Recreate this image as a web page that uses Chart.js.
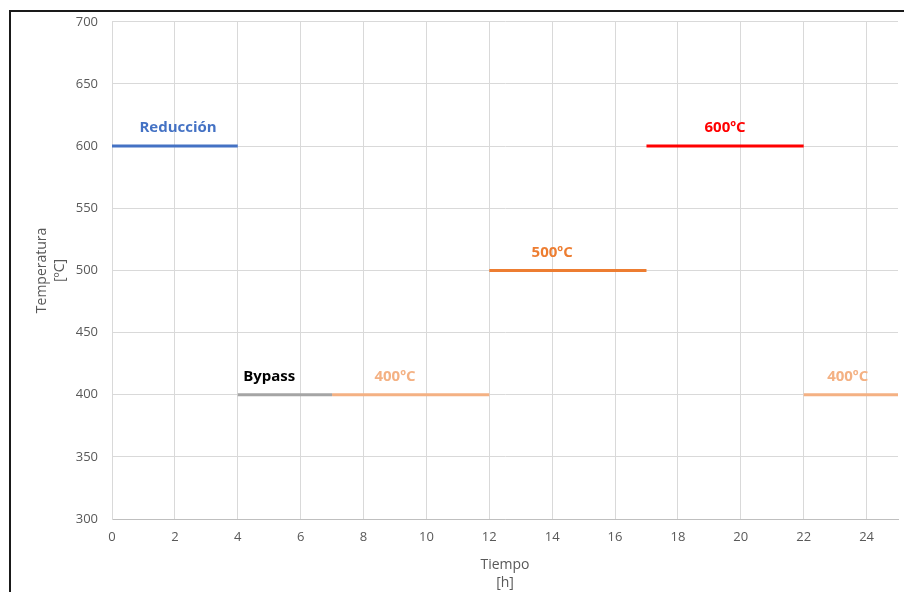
<!DOCTYPE html>
<html>
<head>
<meta charset="utf-8">
<script src="https://cdn.jsdelivr.net/npm/chart.js@4/dist/chart.umd.min.js"></script>
<style>
  html, body { margin: 0; padding: 0; background: #fff; overflow: hidden; }
  #wrap { position: relative; width: 904px; height: 592px; }
  #frame { position: absolute; left: 9px; top: 10px; width: 1000px; height: 1000px;
           border: 2px solid #1a1a1a; pointer-events: none; }
</style>
</head>
<body>
<div id="wrap">
  <canvas id="chart" width="904" height="592"></canvas>
  <div id="frame"></div>
</div>
<script>
'use strict';

/* ── Data ── */
const segNames  = ['Reducción', 'Bypass', '400ºC', '500ºC', '600ºC', '400ºC'];
const segStart  = [0, 4, 7, 12, 17, 22];
const segEnd    = [4, 7, 12, 17, 22, 25];
const segTemp   = [600, 400, 400, 500, 600, 400];
const labelAtX  = [2.1, 5, 9, 14, 19.5, 23.4];
const segColors = ['#4472C4', '#A5A5A5', '#F4B183', '#ED7D31', '#FF0000', '#F4B183'];
const labelColors = ['#4472C4', '#000000', '#F4B183', '#ED7D31', '#FF0000', '#F4B183'];
const xTicks = [0, 2, 4, 6, 8, 10, 12, 14, 16, 18, 20, 22, 24];

const FONT = "'Open Sans', 'Liberation Sans', sans-serif";

/* ── Segment labels drawn above each line ── */
const segLabels = {
  id: 'segLabels',
  afterDatasetsDraw(chart) {
    const { ctx, scales: { x, y } } = chart;
    ctx.save();
    ctx.font = `bold 15px ${FONT}`;
    ctx.textAlign = 'center';
    ctx.textBaseline = 'middle';
    segNames.forEach((name, i) => {
      ctx.fillStyle = labelColors[i];
      ctx.fillText(name, x.getPixelForValue(labelAtX[i]), y.getPixelForValue(segTemp[i]) - 18);
    });
    ctx.restore();
  }
};

new Chart(document.getElementById('chart'), {
  type: 'line',
  data: {
    datasets: segNames.map((name, i) => ({
      label: name,
      data: [{ x: segStart[i], y: segTemp[i] }, { x: segEnd[i], y: segTemp[i] }],
      borderColor: segColors[i],
      borderWidth: 3,
      pointRadius: 0,
      fill: false,
      tension: 0,
    }))
  },
  options: {
    responsive: false,
    animation: false,
    layout: { padding: { top: 21, right: 6, left: 0, bottom: 0 } },
    plugins: { legend: { display: false }, tooltip: { enabled: false } },
    scales: {
      x: {
        type: 'linear',
        min: 0,
        max: 25,
        afterBuildTicks: s => { s.ticks = xTicks.map(v => ({ value: v })); },
        afterFit: s => { s.height = 73; },
        grid: { color: '#D9D9D9', drawTicks: false },
        border: { color: '#BFBFBF', width: 1 },
        ticks: { color: '#595959', padding: 10, font: { family: FONT, size: 13 } },
        title: {
          display: true,
          text: ['Tiempo', '[h]'],
          color: '#595959',
          font: { family: FONT, size: 14, lineHeight: '18px' },
          padding: { top: 0, bottom: 0 }
        }
      },
      y: {
        min: 300,
        max: 700,
        ticks: { stepSize: 50, color: '#595959', padding: 14, font: { family: FONT, size: 13 } },
        afterFit: s => { s.width = 112; },
        grid: { color: '#D9D9D9', drawTicks: false },
        border: { color: '#D9D9D9', width: 1 },
        title: {
          display: true,
          text: ['Temperatura', '[ºC]'],
          color: '#595959',
          font: { family: FONT, size: 14, lineHeight: '18px' },
          padding: { top: 33, bottom: 0 }
        }
      }
    }
  },
  plugins: [segLabels]
});
</script>
</body>
</html>
